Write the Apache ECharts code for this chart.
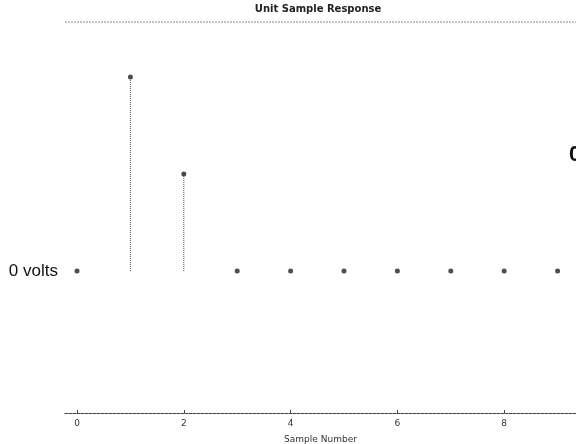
<!DOCTYPE html>
<html><head><meta charset="utf-8">
<script src="https://cdn.jsdelivr.net/npm/echarts@6/dist/echarts.min.js"></script>
<style>html,body{margin:0;padding:0;background:#fff}#c{width:576px;height:444px}</style>
</head><body><div id="c"></div>
<script>
const samples = [0,1,2,3,4,5,6,7,8,9];
const values = [0,1,0.5,0,0,0,0,0,0,0];
const xTicks = [0,2,4,6,8];
const yTicks = [0];
const chart = echarts.init(document.getElementById('c'));
const pts = samples.map((s,i)=>[s,values[i]]);
chart.setOption({
  animation:false,
  backgroundColor:'#fff',
  title:{text:'Unit Sample Response',left:313,top:-1,textAlign:'center',
    textStyle:{fontFamily:'DejaVu Sans',fontSize:10,fontWeight:'bold',color:'#222'}},
  grid:{left:65,right:0,top:22,bottom:31,show:false,outerBoundsMode:'none',containLabel:false},
  xAxis:{type:'value',min:-0.225,max:9.345,
    name:'Sample Number',nameLocation:'middle',nameGap:22,
    nameTextStyle:{fontFamily:'DejaVu Sans',fontSize:9,color:'#333'},
    splitLine:{show:false},
    axisLine:{onZero:false,lineStyle:{color:'#444',width:1,type:[3,1]}},
    axisTick:{customValues:xTicks,inside:true,length:3,lineStyle:{color:'#444'}},
    axisLabel:{customValues:xTicks,margin:6,fontFamily:'DejaVu Sans',fontSize:9,color:'#333'}},
  yAxis:{type:'value',min:-0.732,max:1.2835,
    splitLine:{show:false},axisLine:{show:false},
    axisTick:{show:false,customValues:yTicks},
    axisLabel:{customValues:yTicks,margin:7,formatter:()=> '0 volts',
      fontFamily:'Liberation Sans',fontSize:17,color:'#111'}},
  graphic:[
    {type:'line',shape:{x1:65,y1:22,x2:576,y2:22},style:{stroke:'#888',lineWidth:1,lineDash:[2,1]}},
    {type:'text',left:569,top:144,style:{text:'0',font:'bold 22px Liberation Sans',fill:'#111'}}
  ],
  series:[
    {type:'custom',data:pts,renderItem:(params,api)=>{
      const v=api.value(1); if(v===0) return null;
      const p0=api.coord([api.value(0),0]); const p1=api.coord([api.value(0),v]);
      return {type:'line',shape:{x1:p0[0],y1:p0[1],x2:p1[0],y2:p1[1]},
        style:{stroke:'#555',lineWidth:1,lineDash:[1,1]}};
    },encode:{x:0,y:1},z:1},
    {type:'scatter',data:pts,symbol:'circle',symbolSize:5,
      itemStyle:{color:'#222'},z:2}
  ]
});
</script></body></html>
